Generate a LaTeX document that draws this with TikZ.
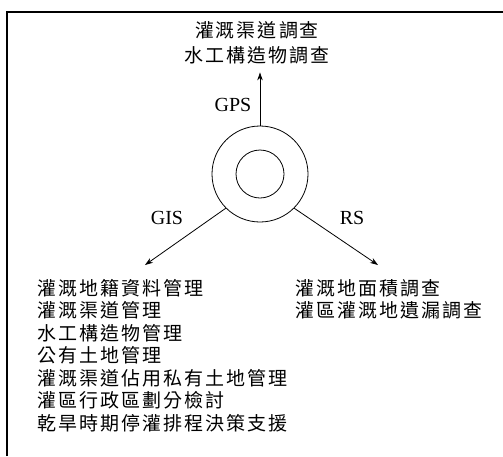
\documentclass[tikz,border=0pt]{standalone}
\usepackage{fontspec}
\setmainfont{Liberation Serif}
\newfontfamily\cjk{Noto Sans CJK TC}
\usetikzlibrary{arrows.meta}
\newcommand\lsp[1]{\lspaux#1\lspend}
\def\lspaux#1#2\lspend{#1\ifx\relax#2\relax\else\kern2pt\lspaux#2\lspend\fi}
\tikzset{
  cjktext/.style={font=\cjk\fontsize{19}{22.5}\selectfont, inner sep=0pt, align=left},
  toptext/.style={font=\cjk\fontsize{19}{25}\selectfont, inner sep=0pt, align=center},
  techlabel/.style={font=\fontsize{20}{22}\selectfont, inner sep=0pt},
  conn/.style={line width=0.8pt, -{Stealth[length=8pt,width=5.5pt]}},
  ring/.style={circle, draw, line width=0.8pt, inner sep=0pt},
  frame/.style={line width=1.4pt}
}
\begin{document}
\begin{tikzpicture}[x=1pt,y=-1pt]
\useasboundingbox (0,0) rectangle (503,456);
\draw[frame] (7,456) -- (7,12) -- (503,12);

\node[ring, minimum size=96pt] (outer) at (260,174) {};
\node[ring, minimum size=48pt] (inner) at (260,174) {};

\node[toptext, anchor=north] (top) at (257,21) {\lsp{灌溉渠道調查}\\\lsp{水工構造物調查}};

\node[cjktext, anchor=north west] (gislist) at (37,279) {%
\lsp{灌溉地籍資料管理}\\
\lsp{灌溉渠道管理}\\
\lsp{水工構造物管理}\\
\lsp{公有土地管理}\\
\lsp{灌溉渠道佔用私有土地管理}\\
\lsp{灌區行政區劃分檢討}\\
\lsp{乾旱時期停灌排程決策支援}};

\node[cjktext, anchor=north west] (rslist) at (295,279) {%
\lsp{灌溉地面積調查}\\
\lsp{灌區灌溉地遺漏調查}};

\coordinate (gistip) at (145,265);
\coordinate (rstip) at (378,265);

\draw[conn, shorten >=8.5pt] (outer.north) -- (outer.north |- top.south);
\draw[conn] (outer.south west) -- (gistip);
\draw[conn] (outer.south east) -- (rstip);

\node[techlabel] (gps) at (233,105) {GPS};
\node[techlabel] (gis) at (167,218) {GIS};
\node[techlabel] (rs) at (352,218) {RS};
\end{tikzpicture}
\end{document}
